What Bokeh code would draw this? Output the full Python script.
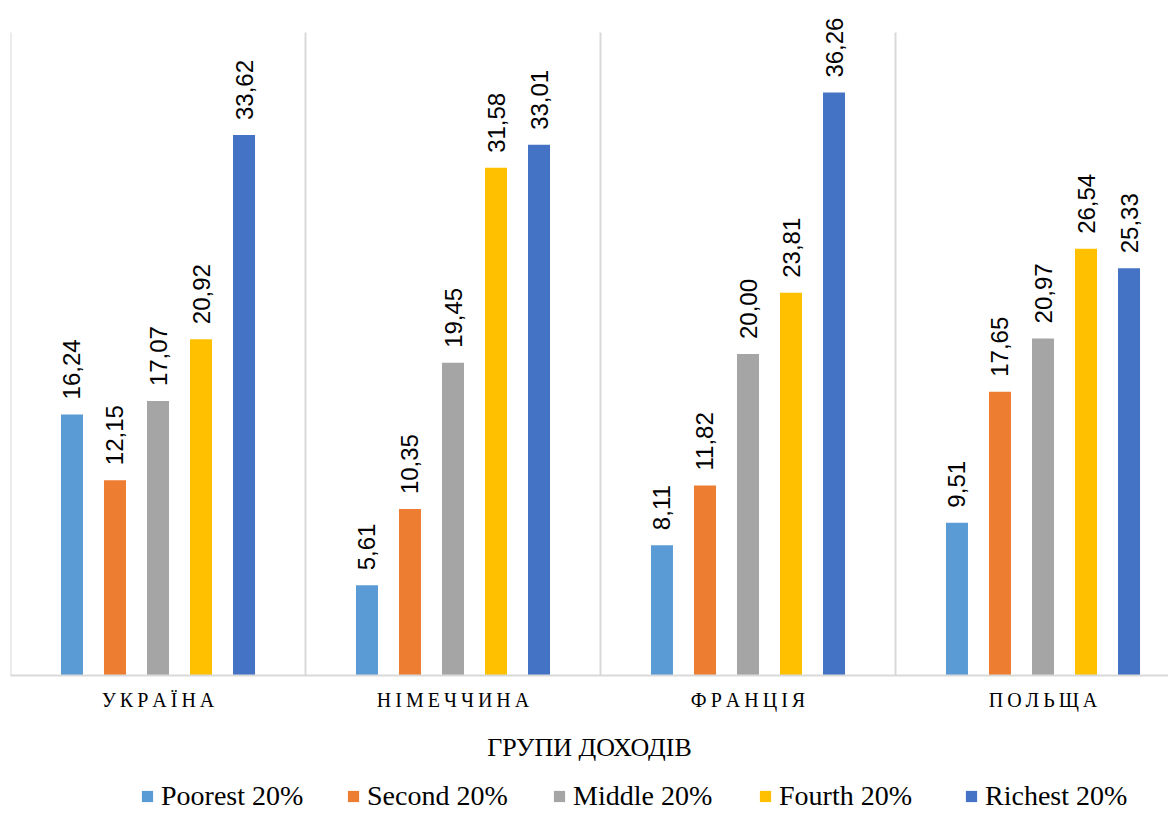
import math
from bokeh.plotting import figure
from bokeh.layouts import column
from bokeh.models import ColumnDataSource, FixedTicker, Range1d, Legend, LegendItem
from bokeh.core.properties import value
from bokeh.embed import file_html
from bokeh.resources import INLINE

categories = ["УКРАЇНА", "НІМЕЧЧИНА", "ФРАНЦІЯ", "ПОЛЬЩА"]
series_names = ["Poorest 20%", "Second 20%", "Middle 20%", "Fourth 20%", "Richest 20%"]
poorest = [16.24, 5.61, 8.11, 9.51]
second = [12.15, 10.35, 11.82, 17.65]
middle = [17.07, 19.45, 20.00, 20.97]
fourth = [20.92, 31.58, 23.81, 26.54]
richest = [33.62, 33.01, 36.26, 25.33]
colors = ["#5B9BD5", "#ED7D31", "#A5A5A5", "#FFC000", "#4472C4"]
axis_title = "ГРУПИ ДОХОДІВ"
y_max = 40

series_values = [poorest, second, middle, fourth, richest]
spaced = ["\u2009".join(list(c)) for c in categories]

W = 1168
H1 = 770
BL = 10
frame_w = W - BL
frame_h = 675
plot_top_px = 32
y_end = y_max * frame_h / (frame_h - plot_top_px)

p = figure(width=W, height=H1, output_backend="svg", toolbar_location=None,
           x_range=Range1d(0, frame_w / 295), y_range=Range1d(0, y_end),
           min_border_left=BL, min_border_right=0, min_border_top=0,
           min_border_bottom=H1 - frame_h)
p.outline_line_color = None
p.background_fill_color = "white"
p.border_fill_color = "white"
p.xgrid.visible = False
p.ygrid.visible = False
p.yaxis.visible = False

# category separators (chart's vertical gridlines) spanning 0..y_max
bounds = list(range(len(categories) + 1))
p.segment(x0=bounds, y0=[0] * len(bounds), x1=bounds, y1=[y_max] * len(bounds),
          line_color="#d9d9d9", line_width=2)

offset = 0.1458
bw = 0.0746
for j, (name, vals, col) in enumerate(zip(series_names, series_values, colors)):
    xs = [i + 0.5 + (j - 2) * offset for i in range(len(categories))]
    labels = ["{:.2f}".format(v).replace(".", ",") for v in vals]
    src = ColumnDataSource(dict(x=xs, top=vals, label=labels))
    p.vbar(x="x", top="top", width=bw, source=src, fill_color=col, line_color=None)
    p.text(x="x", y="top", text="label", source=src, angle=math.pi / 2,
           text_align="left", text_baseline="middle", y_offset=-15,
           text_font=value("Liberation Sans"), text_font_size="24px", text_color="#000000")

ax = p.xaxis[0]
ax.ticker = FixedTicker(ticks=[i + 0.5 for i in range(len(categories))])
ax.major_label_overrides = {i + 0.5: s for i, s in enumerate(spaced)}
ax.major_tick_line_color = None
ax.minor_tick_line_color = None
ax.axis_line_color = "#d9d9d9"
ax.axis_line_width = 2
ax.major_label_text_font = "Liberation Serif"
ax.major_label_text_font_size = "20px"
ax.major_label_text_color = "#000000"
ax.major_label_standoff = 7
ax.axis_label = axis_title
ax.axis_label_text_font = "Liberation Serif"
ax.axis_label_text_font_size = "26px"
ax.axis_label_text_font_style = "normal"
ax.axis_label_text_color = "#000000"
ax.axis_label_standoff = 19

# legend strip
H2 = 42
p2 = figure(width=W, height=H2, output_backend="svg", toolbar_location=None,
            x_range=Range1d(0, 1), y_range=Range1d(0, 1),
            x_axis_type=None, y_axis_type=None,
            min_border_left=0, min_border_right=0, min_border_top=0, min_border_bottom=0)
p2.outline_line_color = None
p2.xgrid.visible = False
p2.ygrid.visible = False
items = []
for name, col in zip(series_names, colors):
    r = p2.vbar(x=[-10], top=[0], width=0.1, fill_color=col, line_color=None)
    items.append(LegendItem(label=name, renderers=[r]))
legend = Legend(items=items, orientation="horizontal", location=(130, 0),
                glyph_width=14, glyph_height=14, label_width=160, label_standoff=7,
                spacing=25, padding=0, margin=0,
                label_text_font="Liberation Serif", label_text_font_size="28px",
                label_text_color="#000000", border_line_color=None,
                background_fill_alpha=0)
p2.add_layout(legend, "center")

layout = column(p, p2, spacing=0)
open("out.html", "w").write(file_html(layout, INLINE))
